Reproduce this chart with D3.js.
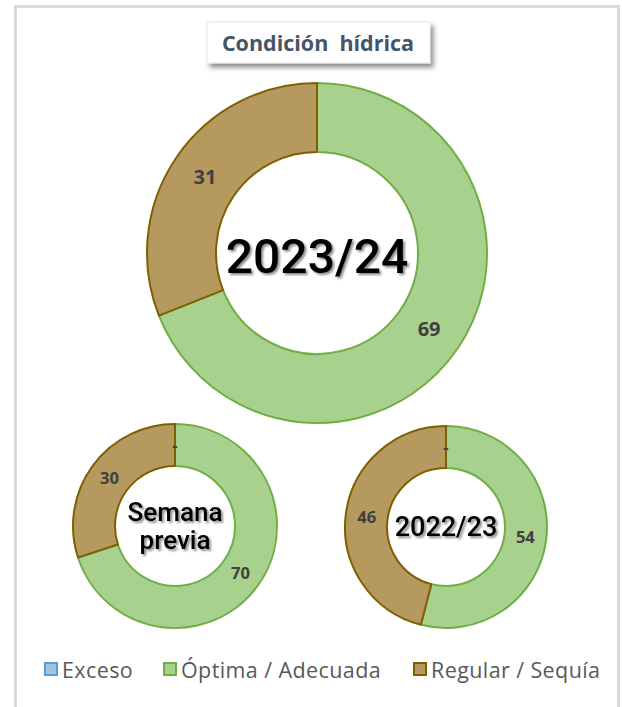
<!DOCTYPE html>
<meta charset="utf-8">
<style>
body { margin: 0; background: #fff; }
svg { display: block; }
.lbl { font-family: "Open Sans", sans-serif; font-weight: 700; fill: #404040; text-anchor: middle; }
.center { font-family: Roboto, sans-serif; font-weight: 500; fill: #000; text-anchor: middle; }
.legend text { font-family: "Open Sans", sans-serif; font-size: 21.5px; letter-spacing: 0.4px; fill: #595959; }
</style>
<body>
<script src="https://d3js.org/d3.v7.min.js"></script>
<script>

// data
var categories = ["Exceso", "Óptima / Adecuada", "Regular / Sequía"];
var periods = ["2023/24", "Semana previa", "2022/23"];
var exceso = [0, 0, 0];
var optima = [69, 70, 54];
var regular = [31, 30, 46];

var fills = ["#9dc3e6", "#a9d18e", "#b5995e"];
var strokes = ["#5b9bd5", "#70ad47", "#7f6000"];

var W = 622, H = 707;

var svg = d3.select("body").append("svg")
    .attr("width", W)
    .attr("height", H);

// shadow filters for the centre text and the title box
var defs = svg.append("defs");
var f = defs.append("filter").attr("id", "tshadow")
    .attr("x", "-10%").attr("y", "-10%").attr("width", "130%").attr("height", "140%");
f.append("feDropShadow").attr("dx", 2).attr("dy", 2).attr("stdDeviation", 1.2)
    .attr("flood-color", "#000").attr("flood-opacity", 0.45);
var f2 = defs.append("filter").attr("id", "bshadow")
    .attr("x", "-10%").attr("y", "-20%").attr("width", "130%").attr("height", "160%");
f2.append("feDropShadow").attr("dx", 3).attr("dy", 4).attr("stdDeviation", 2.5)
    .attr("flood-color", "#000").attr("flood-opacity", 0.45);

// outer frame
svg.append("rect")
    .attr("x", 15.5).attr("y", 6.5)
    .attr("width", 603).attr("height", 720)
    .attr("fill", "#fff")
    .attr("stroke", "#d9d9d9").attr("stroke-width", 3);

// title
var tg = svg.append("g");
tg.append("rect")
    .attr("x", 207).attr("y", 22).attr("width", 223).attr("height", 41)
    .attr("fill", "#fff").attr("stroke", "#e6e6e6")
    .attr("filter", "url(#bshadow)");
tg.append("text")
    .attr("x", 318).attr("y", 51)
    .attr("text-anchor", "middle")
    .style("white-space", "pre")
    .style("font-family", "'Open Sans', sans-serif")
    .style("font-weight", 700).style("font-size", "21.5px")
    .style("fill", "#44546a")
    .text("Condición  hídrica");

var pie = d3.pie().sort(null).value(function(d) { return d; });

var donuts = [
  {cx: 317, cy: 253, r: 170, ri: 101, lsize: 20, name: ["2023/24"], csize: 48, cy0: 3},
  {cx: 175, cy: 526, r: 102, ri: 60, lsize: 16.5, name: ["Semana", "previa"], csize: 26, cy0: 0},
  {cx: 446, cy: 527, r: 101, ri: 59, lsize: 16.5, name: ["2022/23"], csize: 27, cy0: 0}
];

donuts.forEach(function(dn, i) {
  var vals = [exceso[i], optima[i], regular[i]];
  var arc = d3.arc().innerRadius(dn.ri).outerRadius(dn.r);
  var g = svg.append("g").attr("transform", "translate(" + dn.cx + "," + dn.cy + ")");

  var arcs = pie(vals);
  g.selectAll("path")
    .data(arcs)
    .enter().append("path")
      .attr("d", arc)
      .attr("fill", function(d, k) { return fills[k]; })
      .attr("stroke", function(d, k) { return strokes[k]; })
      .attr("stroke-width", 2)
      .attr("stroke-linejoin", "round");

  // values in the middle of each slice; zero shows a dash (only on the small ones)
  g.selectAll("text.lbl")
    .data(arcs)
    .enter().append("text")
      .attr("class", "lbl")
      .attr("x", function(d) { return arc.centroid(d)[0]; })
      .attr("y", function(d) { return arc.centroid(d)[1]; })
      .attr("dy", "0.35em")
      .style("font-size", dn.lsize + "px")
      .text(function(d) {
        if (d.data === 0) return i === 0 ? "" : "-";
        return d.data;
      });

  // name in the hole
  var ct = g.append("text")
      .attr("class", "center")
      .attr("filter", "url(#tshadow)")
      .style("font-size", dn.csize + "px");
  var n = dn.name.length;
  dn.name.forEach(function(s, k) {
    ct.append("tspan")
      .attr("x", 0)
      .attr("y", dn.cy0 + (k - (n - 1) / 2) * dn.csize * 1.1)
      .attr("dy", "0.35em")
      .text(s);
  });
});

// legend
var legX = [45, 164, 414];
var lg = svg.append("g").attr("class", "legend");
categories.forEach(function(c, k) {
  lg.append("rect")
    .attr("x", legX[k]).attr("y", 663).attr("width", 12).attr("height", 12)
    .attr("fill", fills[k]).attr("stroke", strokes[k]).attr("stroke-width", 2);
  lg.append("text")
    .attr("x", legX[k] + 17).attr("y", 678)
    .text(c);
});

</script>
</body>
